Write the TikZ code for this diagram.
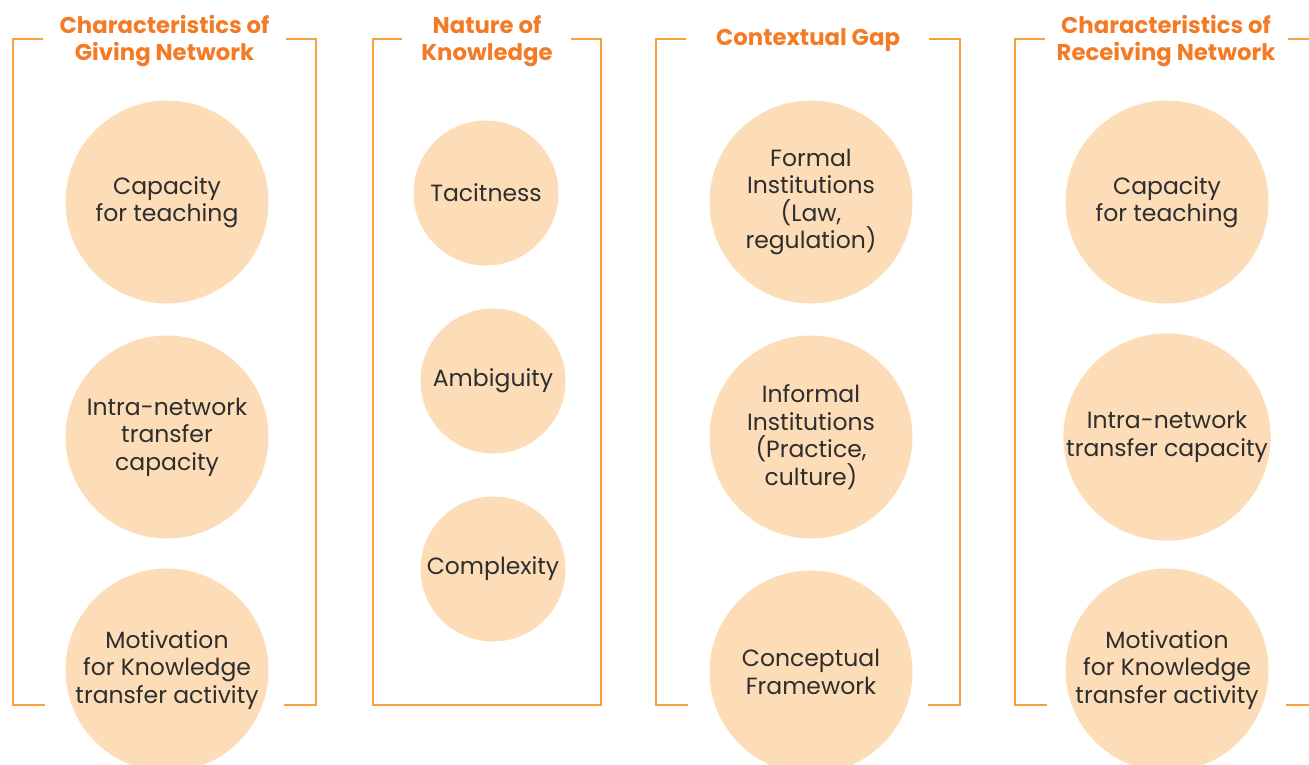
\documentclass[tikz,border=0pt]{standalone}
\usepackage{fontspec}
\setmainfont{Poppins}
\definecolor{titleorange}{HTML}{F37B25}
\definecolor{frameorange}{HTML}{F7A33C}
\definecolor{peach}{HTML}{FDDDB7}
\definecolor{txtgray}{HTML}{2E2E2E}
\newcommand{\bodyfont}{\fontsize{23.5}{27.5}\selectfont}
\newcommand{\headfont}{\bfseries\fontsize{22.8}{27}\selectfont}
\begin{document}
\begin{tikzpicture}[x=1pt,y=-1pt,
  frameline/.style={draw=frameorange, line width=1.4pt},
  bubble/.style={circle, fill=peach, inner sep=0pt, text=txtgray, align=center, font=\bodyfont},
  big/.style={bubble, minimum size=203pt},
  small/.style={bubble, minimum size=145pt},
  heading/.style={text=titleorange, font=\headfont, align=center, inner sep=0pt}]
\useasboundingbox (0,0) rectangle (1309,765);
\clip (0,0) rectangle (1309,765);

% column frames (open brackets with gaps for titles and circles)
\draw[frameline] (43,39) -- (13,39) -- (13,705) -- (45,705);
\draw[frameline] (286,39) -- (316,39) -- (316,705) -- (284,705);
\draw[frameline] (402,39) -- (373,39) -- (373,705) -- (601,705) -- (601,39) -- (571,39);
\draw[frameline] (686,39) -- (656,39) -- (656,705) -- (688,705);
\draw[frameline] (929,39) -- (960,39) -- (960,705) -- (928,705);
\draw[frameline] (1045,39) -- (1015,39) -- (1015,705) -- (1047,705);
\draw[frameline] (1288,39) -- (1318,39) -- (1318,705) -- (1286,705);

% headings
\node[heading] (h1) at (164.5,41) {Characteristics of\\Giving Network};
\node[heading] (h2) at (487,41) {Nature of\\Knowledge};
\node[heading] (h3) at (808,40) {Contextual Gap};
\node[heading] (h4) at (1166,41) {Characteristics of\\Receiving Network};

% giving network
\node[big] (g1) at (167,202) {Capacity\\for teaching};
\node[big] (g2) at (167,437) {Intra-network\\transfer\\capacity};
\node[big] (g3) at (167,670) {Motivation\\for Knowledge\\transfer activity};

% nature of knowledge
\node[small] (k1) at (486,193) {Tacitness};
\node[small] (k2) at (493,381) {Ambiguity};
\node[small] (k3) at (493,569) {Complexity};

% contextual gap
\node[big] (c1) at (811,202) {Formal\\Institutions\\(Law,\\regulation)};
\node[big] (c2) at (811,437) {Informal\\Institutions\\(Practice,\\culture)};
\node[big] (c3) at (811,672) {Conceptual\\Framework};

% receiving network
\node[big] (r1) at (1167,202) {Capacity\\for teaching};
\node[big] (r2) at (1167,437) {Intra-network\\transfer capacity};
\node[big] (r3) at (1167,670) {Motivation\\for Knowledge\\transfer activity};
\end{tikzpicture}
\end{document}
